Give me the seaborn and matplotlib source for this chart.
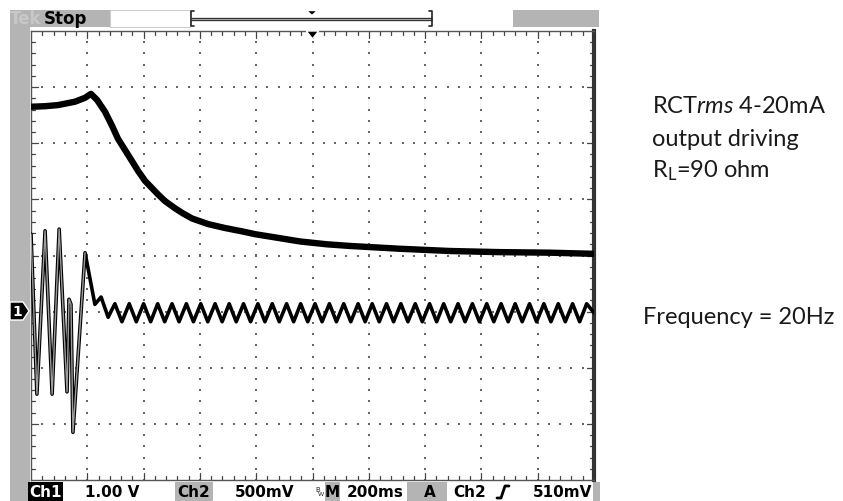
import numpy as np
import seaborn as sns
import matplotlib.pyplot as plt
from matplotlib.patches import Rectangle, Polygon

# Scope capture, 200 ms/div. Levels are in screen divisions (0 = centre line)

# Upper trace: RCTrms 4-20mA output settling
out_t = [0, 50, 96, 156, 192, 213, 235, 263, 288, 309, 334, 359, 380, 405,
         430, 451, 476, 512, 540, 572, 629, 689, 750, 796, 870, 956, 1050, 1133, 1311,
         1489, 1666, 1844, 2000]
out_v = [2.65, 2.66, 2.68, 2.74, 2.81, 2.88, 2.77, 2.56, 2.31, 2.08, 1.88, 1.68, 1.51, 1.33,
         1.20, 1.09, 0.97, 0.84, 0.75, 0.66, 0.56, 0.49, 0.43, 0.38, 0.32, 0.25, 0.20, 0.17, 0.12,
         0.08, 0.06, 0.05, 0.03]

# Lower trace: start-up ringing, then the 20 Hz input
in_t = [0, 21, 50, 75, 100, 128, 135, 142, 149, 192, 227, 249, 274,
        298, 323, 349, 374, 400, 425, 450, 475, 501, 526, 552, 577, 603, 628,
        654, 679, 704, 729, 755, 780, 806, 831, 857, 882, 908, 933, 958, 983,
        1009, 1034, 1060, 1085, 1111, 1136, 1162, 1187, 1212, 1237, 1263, 1288,
        1314, 1339, 1365, 1390, 1416, 1441, 1466, 1491, 1517, 1542, 1568, 1593,
        1619, 1644, 1670, 1695, 1720, 1745, 1771, 1796, 1822, 1847, 1873, 1898,
        1924, 1949, 1974, 2000]
in_v = [0.38, -2.47, 0.44, -2.47, 0.47, -2.43, -0.78, -0.87, -3.15, 0.05, -0.87, -0.74, -1.10,
        -0.86, -1.18, -0.86, -1.18, -0.86, -1.18, -0.86, -1.18, -0.86, -1.18, -0.86, -1.18, -0.86, -1.18,
        -0.86, -1.18, -0.86, -1.18, -0.86, -1.18, -0.86, -1.18, -0.86, -1.18, -0.86, -1.18, -0.86, -1.18,
        -0.86, -1.18, -0.86, -1.18, -0.86, -1.18, -0.86, -1.18, -0.86, -1.18, -0.86, -1.18,
        -0.86, -1.18, -0.86, -1.18, -0.86, -1.18, -0.86, -1.18, -0.86, -1.18, -0.86, -1.18,
        -0.86, -1.18, -0.86, -1.18, -0.86, -1.18, -0.86, -1.18, -0.86, -1.18, -0.86, -1.18,
        -0.86, -1.18, -0.86, -1.02]
n_ring = 10  # points of the fast burst (drawn as outlined trace)

status = ["Ch1", "1.00 V", "Ch2", "500mV", "M", "200ms", "A", "Ch2", "510mV"]
status_x = [45.5, 112, 194, 265, 332, 375, 430, 470, 562]
notes = [r"RCT$\mathit{rms}$ 4-20mA", "output driving", r"R$_\mathrm{L}$=90 ohm"]

sns.set_style("white")
plt.rcParams["font.family"] = ["DejaVu Sans"]
plt.rcParams["mathtext.fontset"] = "custom"
plt.rcParams["mathtext.rm"] = "Lato"
plt.rcParams["mathtext.it"] = "Lato:italic"

fig = plt.figure(figsize=(8.43, 5.02), dpi=100)

# background layer in pixel coordinates for the scope frame
bg = fig.add_axes([0, 0, 1, 1])
bg.set_xlim(0, 843)
bg.set_ylim(502, 0)
bg.axis("off")

GRAY = "#b4b4b4"


def box(x0, y0, x1, y1, fc, ec="none", lw=0):
    bg.add_patch(Rectangle((x0, y0), x1 - x0, y1 - y0, fc=fc, ec=ec, lw=lw))


box(10, 11, 30, 502, GRAY)
box(10, 11, 110, 28, GRAY)
box(110, 11, 190, 28, "white", ec="#cccccc", lw=0.8)
box(513, 11, 599, 28, GRAY)
box(28, 483, 63, 502, "black")
box(175, 483, 213, 502, GRAY)
box(325, 483, 340, 502, GRAY)
box(407, 483, 447, 502, GRAY)
box(593, 483, 600, 502, GRAY)

bg.text(26, 19.5, "Tek", color="#c8c8c8", fontsize=12, fontweight="bold", ha="center", va="center")
bg.text(65.5, 19.5, "Stop", color="black", fontsize=12, fontweight="bold", ha="center", va="center")

# trigger position bar
bg.plot([191, 432], [19.5, 19.5], color="#333333", lw=2.4, solid_capstyle="butt")
bg.plot([191, 432], [19.5, 19.5], color="#bbbbbb", lw=0.6, solid_capstyle="butt")
bg.plot([194, 191, 191, 194], [12, 12, 27, 27], color="#222222", lw=1.2)
bg.plot([429, 432, 432, 429], [12, 12, 27, 27], color="#222222", lw=1.2)
bg.add_patch(Polygon([(306.5, 11.5), (317.5, 11.5), (312, 16.5)], fc="black"))

# channel 1 ground marker
bg.add_patch(Polygon([(10, 303), (23, 303), (29, 312), (23, 321), (10, 321)], fc="black"))
bg.text(17, 312, "1", color="white", fontsize=10, fontweight="bold", ha="center", va="center")

# status line
for s, x in zip(status, status_x):
    col = "white" if s == "Ch1" and x < 60 else "black"
    bold = s in ("M", "200ms", "A")
    bg.text(x, 493, s, color=col, fontsize=11, fontweight="bold" if bold else "semibold",
            ha="center", va="center")
bg.text(318, 490, "B", fontsize=5, ha="center", va="center")
bg.text(321, 495, "W", fontsize=4.5, ha="center", va="center")
bg.plot([497, 501, 505, 509], [499, 499, 487, 487], color="black", lw=2)

# notes on the right
for s, yb in zip(notes, [113, 146, 177]):
    bg.text(652, yb, s, fontsize=17, family="Lato", color="#1a1a1a", va="baseline")
bg.text(643, 324, "Frequency = 20Hz", fontsize=17, family="Lato", color="#1a1a1a", va="baseline")

# graticule
ax = fig.add_axes([31 / 843, 21 / 502, 563 / 843, 449 / 502])
ax.set_xlim(0, 2000)
ax.set_ylim(-4, 4)
ax.set_xticks([])
ax.set_yticks([])
for side in ["left", "top", "bottom"]:
    ax.spines[side].set_color("#555555")
    ax.spines[side].set_linewidth(1)
ax.spines["right"].set_color("#333333")
ax.spines["right"].set_linewidth(3)

dot_kw = dict(s=2.5, marker="s", color="#666666", linewidths=0, zorder=1)
ys = np.arange(-4, 4.01, 0.2)
for gx in range(200, 2000, 200):
    ax.scatter(np.full(ys.size, gx), ys, **dot_kw)
xs = np.arange(0, 2001, 40)
for gy in range(-3, 4):
    ax.scatter(xs, np.full(xs.size, gy), **dot_kw)

tk = dict(color="#444444", lw=0.9, zorder=1)
for x in range(40, 2000, 40):
    L = 0.12 if x % 200 == 0 else 0.07
    ax.plot([x, x], [4, 4 - L], **tk)
    ax.plot([x, x], [-4, -4 + L], **tk)
for i in range(1, 40):
    y = -4 + 0.2 * i
    L = 24 if i % 5 == 0 else 14
    ax.plot([0, L], [y, y], **tk)
    ax.plot([2000, 2000 - L], [y, y], **tk)

# trigger point marker
ax.add_patch(Polygon([(978, 4), (1022, 4), (1000, 3.86)], fc="black", clip_on=False, zorder=5))

sns.lineplot(x=out_t, y=out_v, ax=ax, color="black", linewidth=4.6,
             estimator=None, sort=False, zorder=3)
sns.lineplot(x=in_t, y=in_v, ax=ax, color="black", linewidth=2.6,
             estimator=None, sort=False, zorder=3)
sns.lineplot(x=in_t[:n_ring], y=in_v[:n_ring], ax=ax, color="#9d9d9d", linewidth=1.0,
             estimator=None, sort=False, zorder=4)

fig.savefig("out.png", dpi=100)
